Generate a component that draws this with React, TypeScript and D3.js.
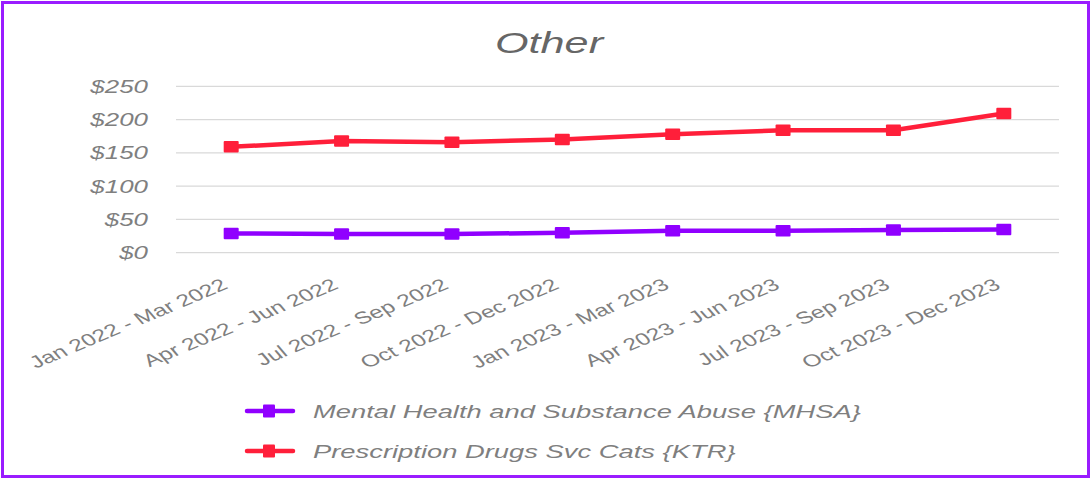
import React from "react";
import * as d3 from "d3";

const categories = [
  "Jan 2022 - Mar 2022",
  "Apr 2022 - Jun 2022",
  "Jul 2022 - Sep 2022",
  "Oct 2022 - Dec 2022",
  "Jan 2023 - Mar 2023",
  "Apr 2023 - Jun 2023",
  "Jul 2023 - Sep 2023",
  "Oct 2023 - Dec 2023",
];
const mhsaValues = [29, 28, 28, 30, 33, 33, 34, 35];
const ktrValues = [159, 168, 166, 170, 178, 184, 184, 209];
const yTicks = [0, 50, 100, 150, 200, 250];
const seriesNames = [
  "Mental Health and Substance Abuse {MHSA}",
  "Prescription Drugs Svc Cats {KTR}",
];
const seriesColors = ["#9000ff", "#ff1f3a"];

const W = 1091;
const H = 479;
const SX = 1.44;
const FONT = "'Liberation Sans', Arial, sans-serif";

export default function App() {
  const x = d3.scaleBand<string>().domain(categories).range([176, 1059]);
  const y = d3.scaleLinear().domain([0, 250]).range([252.7, 86.3]);
  const cxOf = (c: string) => (x(c) as number) + x.bandwidth() / 2;
  const line = d3
    .line<number>()
    .x((_, i) => cxOf(categories[i]))
    .y((d) => y(d));
  const series = [mhsaValues, ktrValues];
  const MW = 15;
  const MH = 11.5;

  return (
    <svg
      width={W}
      height={H}
      style={{ position: "absolute", left: 0, top: 0, background: "#fff" }}
    >
      <rect x={0} y={0} width={W} height={H} fill="#fff" />
      <rect
        x={2.5}
        y={2.5}
        width={W - 5}
        height={H - 5}
        fill="none"
        stroke="#9a1cff"
        strokeWidth={3}
      />
      <g transform={`translate(549,53) scale(${SX},1)`}>
        <text
          textAnchor="middle"
          fontFamily={FONT}
          fontStyle="italic"
          fontSize={30}
          fill="#666"
        >
          Other
        </text>
      </g>
      {yTicks.map((t) => (
        <g key={t}>
          <line
            x1={176}
            x2={1059}
            y1={y(t)}
            y2={y(t)}
            stroke="#d9d9d9"
            strokeWidth={1.3}
          />
          <g transform={`translate(148,${y(t) + 6.5}) scale(${SX},1)`}>
            <text
              textAnchor="end"
              fontFamily={FONT}
              fontStyle="italic"
              fontSize={18}
              fill="#7f7f7f"
            >
              {"$" + t}
            </text>
          </g>
        </g>
      ))}
      {categories.map((c) => (
        <g
          key={c}
          transform={`translate(${cxOf(c) - 2},288) scale(${SX},1) rotate(-31)`}
        >
          <text
            textAnchor="end"
            fontFamily={FONT}
            fontSize={17}
            fill="#7f7f7f"
          >
            {c}
          </text>
        </g>
      ))}
      {series.map((vals, si) => (
        <g key={si}>
          <path
            d={line(vals) || ""}
            fill="none"
            stroke={seriesColors[si]}
            strokeWidth={4.5}
            strokeLinejoin="round"
          />
          {vals.map((v, i) => (
            <rect
              key={i}
              x={cxOf(categories[i]) - MW / 2}
              y={y(v) - MH / 2}
              width={MW}
              height={MH}
              rx={1}
              fill={seriesColors[si]}
            />
          ))}
        </g>
      ))}
      {seriesNames.map((n, si) => {
        const ly = 411 + si * 40;
        return (
          <g key={n}>
            <line
              x1={247}
              x2={293}
              y1={ly}
              y2={ly}
              stroke={seriesColors[si]}
              strokeWidth={4.5}
              strokeLinecap="round"
            />
            <rect
              x={263}
              y={ly - 6.5}
              width={12}
              height={13}
              rx={1}
              fill={seriesColors[si]}
            />
            <g transform={`translate(313,${ly + 6.5}) scale(${SX},1)`}>
              <text
                fontFamily={FONT}
                fontStyle="italic"
                fontSize={19}
                fill="#7f7f7f"
              >
                {n}
              </text>
            </g>
          </g>
        );
      })}
    </svg>
  );
}
